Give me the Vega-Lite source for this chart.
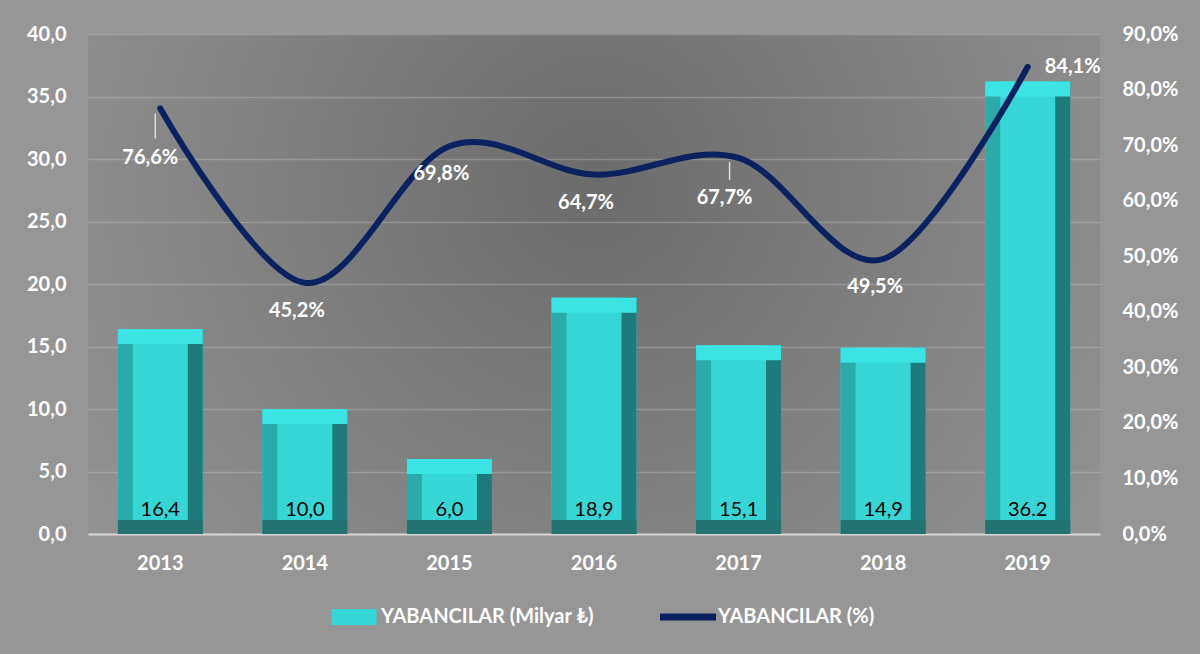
{
  "$schema": "https://vega.github.io/schema/vega-lite/v6.json",
  "width": 1012,
  "height": 500,
  "autosize": {"type": "none"},
  "padding": {"left": 88, "top": 34, "right": 100, "bottom": 120},
  "background": "#969696",
  "config": {
    "locale": {"number": {"decimal": ",", "thousands": ".", "grouping": [3], "currency": ["", " ₺"]}},
    "font": "Lato",
    "view": {
      "stroke": null,
      "fill": {"gradient": "radial", "x1": 0.5, "y1": 0.4, "x2": 0.5, "y2": 0.4, "r1": 0, "r2": 0.75,
        "stops": [{"offset": 0, "color": "#6c6c6c"}, {"offset": 1, "color": "#9b9b9b"}]}
    }
  },
  "data": {
    "values": [
      {"year": "2013", "milyar": 16.4, "pct": 0.766, "lbl": "16,4"},
      {"year": "2014", "milyar": 10.0, "pct": 0.452, "lbl": "10,0"},
      {"year": "2015", "milyar": 6.0, "pct": 0.698, "lbl": "6,0"},
      {"year": "2016", "milyar": 18.9, "pct": 0.647, "lbl": "18,9"},
      {"year": "2017", "milyar": 15.1, "pct": 0.677, "lbl": "15,1"},
      {"year": "2018", "milyar": 14.9, "pct": 0.495, "lbl": "14,9"},
      {"year": "2019", "milyar": 36.2, "pct": 0.841, "lbl": "36.2"}
    ]
  },
  "encoding": {
    "x": {
      "field": "year", "type": "ordinal",
      "scale": {"paddingInner": 0, "paddingOuter": 0},
      "axis": {"title": null, "labelAngle": 0, "labelColor": "#ffffff", "labelFontSize": 20, "labelFontWeight": "bold",
        "labelPadding": 19, "ticks": false, "domain": true, "domainColor": "#d6d6d6", "domainWidth": 2}
    }
  },
  "layer": [
    {
      "layer": [
        {
          "mark": {"type": "bar", "width": 85},
          "encoding": {
            "y": {"field": "milyar", "type": "quantitative", "scale": {"domain": [0, 40]},
              "axis": {"title": null, "values": [0, 5, 10, 15, 20, 25, 30, 35, 40], "format": ".1f",
                "labelColor": "#ffffff", "labelFontSize": 20, "labelFontWeight": "bold", "labelPadding": 22,
                "ticks": false, "domain": false, "grid": true, "gridColor": "#ffffff", "gridOpacity": 0.2, "gridWidth": 1.5}},
            "color": {"datum": "YABANCILAR (Milyar ₺)",
              "scale": {"domain": ["YABANCILAR (Milyar ₺)", "YABANCILAR (%)"], "range": ["#37d6d6", "#0b2160"]},
              "legend": {
                "title": null, "orient": "none", "legendX": 241, "legendY": 558, "direction": "horizontal",
                "symbolSize": 2500, "labelFontSize": 20, "labelFontWeight": "bold", "labelColor": "#ffffff",
                "labelLimit": 500, "labelOffset": 2, "columnPadding": 66, "symbolStrokeWidth": 0,
                "encode": {"symbols": {"update": {
                  "shape": {"signal": "datum.value === 'YABANCILAR (%)' ? 'M-1.24,-0.14H1.0V0.14H-1.24Z' : 'M-0.9,-0.32H0.9V0.32H-0.9Z'"},
                  "fill": {"signal": "datum.value === 'YABANCILAR (%)' ? '#0b2160' : '#37d6d6'"},
                  "strokeWidth": {"value": 0}
                }}}
              }}
          }
        },
        {
          "mark": {"type": "bar", "width": 15, "xOffset": -35, "color": "#2aabaa"},
          "encoding": {"y": {"field": "milyar", "type": "quantitative"}}
        },
        {
          "mark": {"type": "bar", "width": 15, "xOffset": 35, "color": "#1f7b79"},
          "encoding": {"y": {"field": "milyar", "type": "quantitative"}}
        },
        {
          "mark": {"type": "bar", "width": 85, "y2Offset": 15, "color": "#3be3e3"},
          "encoding": {"y": {"field": "milyar", "type": "quantitative"}, "y2": {"field": "milyar"}}
        },
        {
          "mark": {"type": "bar", "width": 85, "yOffset": -14, "color": "#237471"},
          "encoding": {"y": {"datum": 0, "type": "quantitative"}, "y2": {"datum": 0}}
        },
        {
          "mark": {"type": "text", "baseline": "middle", "dy": -24, "fontSize": 20, "color": "#000000", "font": "Lato"},
          "encoding": {"y": {"datum": 0, "type": "quantitative"}, "text": {"field": "lbl"}}
        }
      ]
    },
    {
      "layer": [
        {
          "mark": {"type": "line", "interpolate": "cardinal", "strokeWidth": 6, "strokeCap": "round"},
          "encoding": {
            "y": {"field": "pct", "type": "quantitative", "scale": {"domain": [0, 0.9]},
              "axis": {"orient": "right", "title": null, "values": [0, 0.1, 0.2, 0.3, 0.4, 0.5, 0.6, 0.7, 0.8, 0.9], "format": ".1%",
                "labelColor": "#ffffff", "labelFontSize": 20, "labelFontWeight": "bold", "labelPadding": 22,
                "ticks": false, "domain": false, "grid": false}},
            "color": {"datum": "YABANCILAR (%)"}
          }
        },
        {
          "transform": [{"filter": "datum.year === '2013'"}],
          "mark": {"type": "rule", "yOffset": 5, "y2Offset": 30, "xOffset": -5, "color": "#dddddd", "strokeWidth": 1.5},
          "encoding": {"y": {"field": "pct", "type": "quantitative"}, "y2": {"field": "pct"}}
        },
        {
          "transform": [{"filter": "datum.year === '2017'"}],
          "mark": {"type": "rule", "yOffset": 4, "y2Offset": 22, "xOffset": -9, "color": "#dddddd", "strokeWidth": 1.5},
          "encoding": {"y": {"field": "pct", "type": "quantitative"}, "y2": {"field": "pct"}}
        },
        {
          "transform": [{"filter": "datum.year !== '2013' && datum.year !== '2017' && datum.year !== '2019'"}],
          "mark": {"type": "text", "baseline": "middle", "dx": -8, "dy": 28, "fontSize": 20, "fontWeight": "bold", "color": "#ffffff"},
          "encoding": {"y": {"field": "pct", "type": "quantitative"}, "text": {"field": "pct", "type": "quantitative", "format": ".1%"}}
        },
        {
          "transform": [{"filter": "datum.year === '2013'"}],
          "mark": {"type": "text", "baseline": "middle", "dx": -10, "dy": 50, "fontSize": 20, "fontWeight": "bold", "color": "#ffffff"},
          "encoding": {"y": {"field": "pct", "type": "quantitative"}, "text": {"field": "pct", "type": "quantitative", "format": ".1%"}}
        },
        {
          "transform": [{"filter": "datum.year === '2017'"}],
          "mark": {"type": "text", "baseline": "middle", "dx": -14, "dy": 40, "fontSize": 20, "fontWeight": "bold", "color": "#ffffff"},
          "encoding": {"y": {"field": "pct", "type": "quantitative"}, "text": {"field": "pct", "type": "quantitative", "format": ".1%"}}
        },
        {
          "transform": [{"filter": "datum.year === '2019'"}],
          "mark": {"type": "text", "baseline": "middle", "align": "left", "dx": 17, "dy": 0, "fontSize": 20, "fontWeight": "bold", "color": "#ffffff"},
          "encoding": {"y": {"field": "pct", "type": "quantitative"}, "text": {"field": "pct", "type": "quantitative", "format": ".1%"}}
        }
      ]
    }
  ],
  "resolve": {"scale": {"y": "independent"}}
}
